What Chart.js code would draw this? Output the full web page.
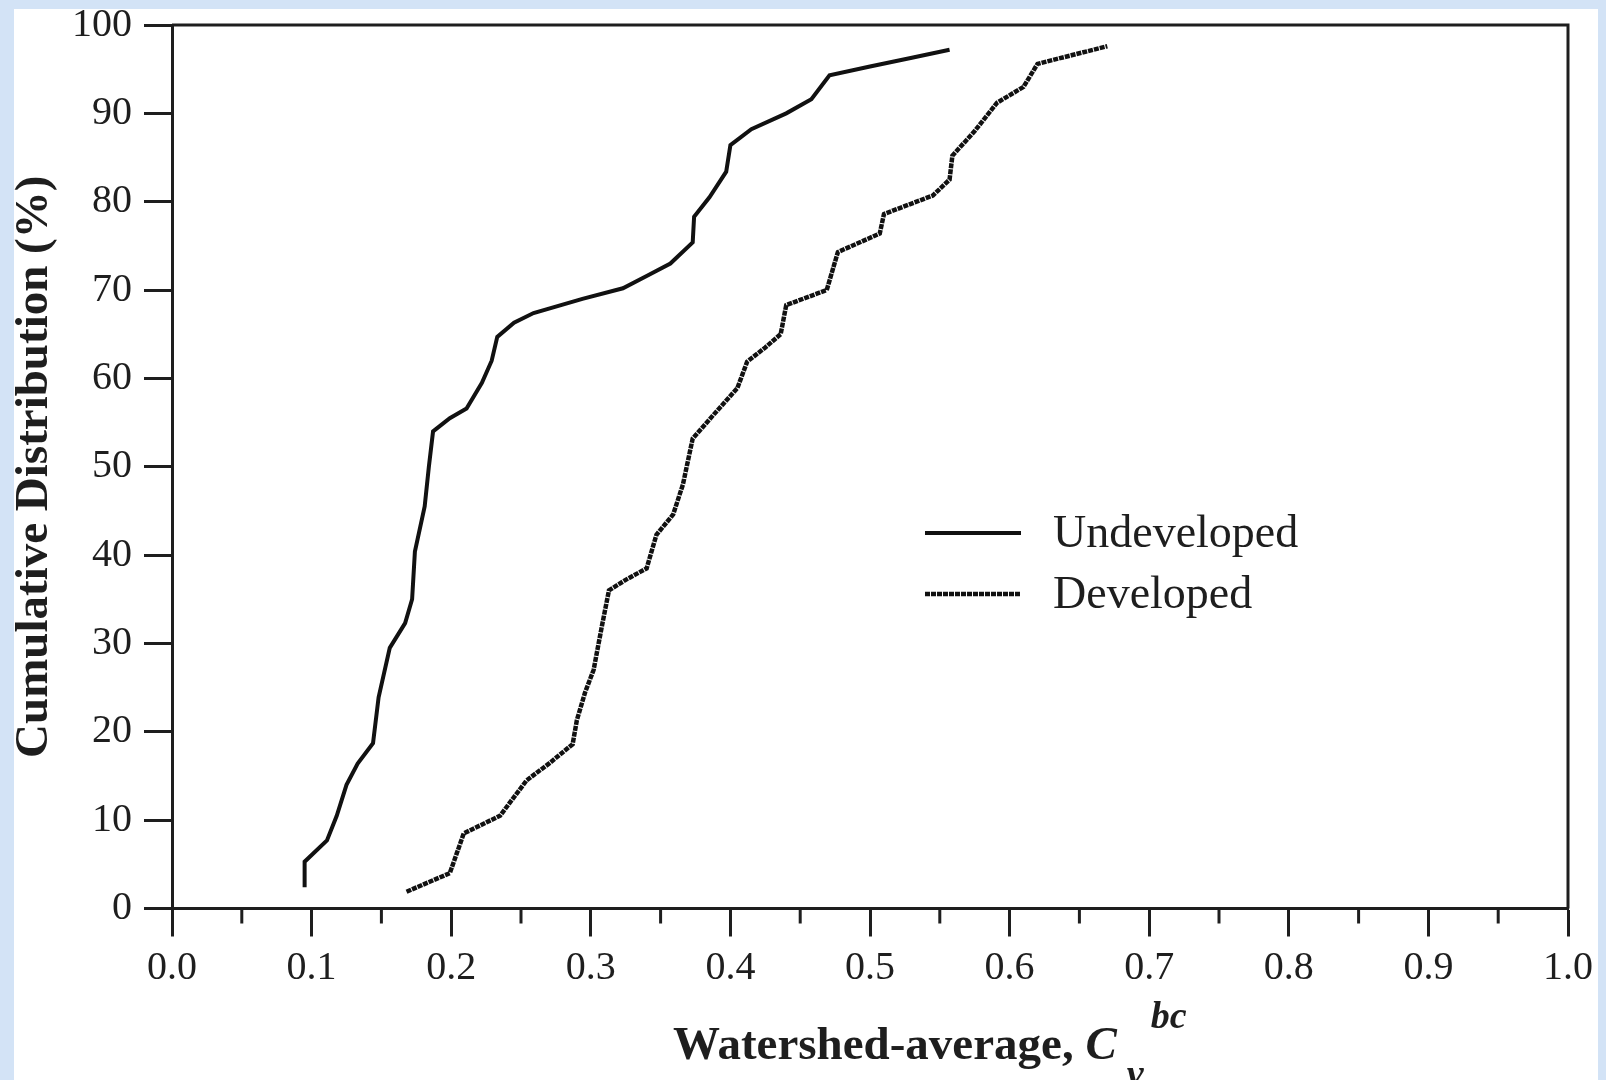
<!DOCTYPE html>
<html>
<head>
<meta charset="utf-8">
<script src="https://cdn.jsdelivr.net/npm/chart.js@4.4.1/dist/chart.umd.min.js"></script>
<style>
  html, body { margin: 0; padding: 0; }
  body { width: 1606px; height: 1080px; background: #d3e3f6; overflow: hidden; position: relative; }
  #panel { position: absolute; left: 14px; top: 9px; width: 1584px; height: 1071px; background: #fff; }
  #panel canvas { display: block; }
</style>
</head>
<body>
<div id="panel"><canvas id="cdf" width="1584" height="1071"></canvas></div>
<script>
// cumulative distribution of watershed-average Cv (bc)
const undevX = [0.095, 0.095, 0.111, 0.118, 0.125, 0.133, 0.144, 0.148, 0.156, 0.167, 0.172, 0.174, 0.181, 0.184, 0.187,
  0.199, 0.211, 0.222, 0.229, 0.233, 0.245, 0.259, 0.294, 0.323, 0.340, 0.357, 0.373, 0.374, 0.385, 0.397,
  0.400, 0.415, 0.440, 0.458, 0.471, 0.500, 0.530, 0.557];
const undevY = [2.4, 5.3, 7.7, 10.5, 14.0, 16.4, 18.7, 23.9, 29.5, 32.3, 35.0, 40.4, 45.5, 50.0, 54.0,
  55.5, 56.6, 59.5, 62.0, 64.7, 66.3, 67.4, 69.0, 70.2, 71.6, 73.0, 75.4, 78.3, 80.5, 83.4,
  86.4, 88.2, 90.0, 91.6, 94.3, 95.3, 96.3, 97.2];

const devX = [0.168, 0.199, 0.209, 0.235, 0.245, 0.254, 0.270, 0.287, 0.290, 0.296, 0.302, 0.308, 0.313, 0.325,
  0.340, 0.347, 0.359, 0.366, 0.373, 0.388, 0.405, 0.412, 0.425, 0.436, 0.440, 0.469, 0.477, 0.507, 0.510,
  0.545, 0.557, 0.559, 0.575, 0.591, 0.610, 0.620, 0.645, 0.670];
const devY = [1.9, 4.0, 8.5, 10.5, 12.6, 14.5, 16.4, 18.6, 21.3, 24.5, 27.0, 32.0, 36.0, 37.2,
  38.5, 42.3, 44.6, 48.0, 53.2, 55.9, 58.9, 61.9, 63.5, 65.0, 68.3, 70.0, 74.3, 76.4, 78.6,
  80.7, 82.5, 85.2, 88.0, 91.2, 93.0, 95.6, 96.6, 97.6];

const seriesNames = ['Undeveloped', 'Developed'];

const xTickValues = [0, 0.1, 0.2, 0.3, 0.4, 0.5, 0.6, 0.7, 0.8, 0.9, 1.0];
const xTickLabels = ['0.0', '0.1', '0.2', '0.3', '0.4', '0.5', '0.6', '0.7', '0.8', '0.9', '1.0'];
const xMinorTicks = [0.05, 0.15, 0.25, 0.35, 0.45, 0.55, 0.65, 0.75, 0.85, 0.95];
const yTickValues = [0, 10, 20, 30, 40, 50, 60, 70, 80, 90, 100];
const yTickLabels = ['0', '10', '20', '30', '40', '50', '60', '70', '80', '90', '100'];

const INK = '#1e1e1e';
const SERIF = '"Liberation Serif", "Times New Roman", serif';

function toPoints(xs, ys) {
  return xs.map((x, i) => ({ x: x, y: ys[i] }));
}

// top and right sides of the box, plus the short x ticks
const framePlugin = {
  id: 'frame',
  afterDraw(chart) {
    const { ctx, chartArea: a, scales } = chart;
    ctx.save();
    ctx.strokeStyle = INK;
    ctx.lineWidth = 3;
    ctx.beginPath();
    ctx.moveTo(a.left, a.top);
    ctx.lineTo(a.right, a.top);
    ctx.lineTo(a.right, a.bottom);
    ctx.stroke();
    xMinorTicks.forEach(v => {
      const px = scales.x.getPixelForValue(v);
      ctx.beginPath();
      ctx.moveTo(px, a.bottom);
      ctx.lineTo(px, a.bottom + 15);
      ctx.stroke();
    });
    ctx.restore();
  }
};

// legend sitting inside the plot
const innerLegend = {
  id: 'innerLegend',
  afterDraw(chart) {
    const { ctx } = chart;
    const x0 = 911, x1 = 1007, tx = 1039;
    const rows = [524, 585];
    ctx.save();
    chart.data.datasets.forEach((ds, i) => {
      ctx.strokeStyle = ds.borderColor;
      ctx.lineWidth = ds.borderWidth;
      ctx.setLineDash(ds.borderDash || []);
      ctx.beginPath();
      ctx.moveTo(x0, rows[i]);
      ctx.lineTo(x1, rows[i]);
      ctx.stroke();
      ctx.setLineDash([]);
      ctx.fillStyle = INK;
      ctx.font = '46px ' + SERIF;
      ctx.textBaseline = 'middle';
      ctx.fillText(ds.label, tx, rows[i] + 2);
    });
    ctx.restore();
  }
};

// x axis title with sub- and superscript
const xTitle = {
  id: 'xTitle',
  afterDraw(chart) {
    const { ctx } = chart;
    ctx.save();
    ctx.fillStyle = INK;
    ctx.textBaseline = 'alphabetic';
    const base = 1050;
    let x = 659;
    ctx.font = 'bold 47px ' + SERIF;
    const main = 'Watershed-average, ';
    ctx.fillText(main, x, base);
    x += ctx.measureText(main).width;
    ctx.font = 'italic bold 47px ' + SERIF;
    ctx.fillText('C', x, base);
    x += ctx.measureText('C').width;
    ctx.font = 'italic bold 38px ' + SERIF;
    ctx.fillText('v', x + 10, base + 27);
    ctx.fillText('bc', x + 34, base - 31);
    ctx.restore();
  }
};

new Chart(document.getElementById('cdf'), {
  type: 'line',
  data: {
    datasets: [{
      label: seriesNames[0],
      data: toPoints(undevX, undevY),
      borderColor: '#111',
      borderWidth: 4,
      pointRadius: 0,
      tension: 0
    }, {
      label: seriesNames[1],
      data: toPoints(devX, devY),
      borderColor: '#111',
      borderWidth: 4.5,
      borderDash: [5, 1],
      pointRadius: 0,
      tension: 0
    }]
  },
  options: {
    responsive: false,
    animation: false,
    layout: { padding: { top: 16, right: 30, left: 0, bottom: 0 } },
    plugins: {
      legend: { display: false },
      tooltip: { enabled: false }
    },
    scales: {
      x: {
        type: 'linear',
        min: 0,
        max: 1,
        afterBuildTicks: s => { s.ticks = xTickValues.map(v => ({ value: v })); },
        afterFit: s => { s.height = 171.5; s.paddingLeft = 0; s.paddingRight = 0; },
        ticks: {
          callback: (v, i) => xTickLabels[i],
          font: { family: SERIF, size: 40 },
          color: INK,
          padding: 8,
          maxRotation: 0,
          autoSkip: false
        },
        grid: { drawOnChartArea: false, tickLength: 28, tickWidth: 3, tickColor: INK },
        border: { color: INK, width: 3 }
      },
      y: {
        min: 0,
        max: 100,
        afterBuildTicks: s => { s.ticks = yTickValues.map(v => ({ value: v })); },
        afterFit: s => { s.width = 158; s.paddingTop = 0; s.paddingBottom = 0; },
        ticks: {
          callback: (v, i) => yTickLabels[i],
          font: { family: SERIF, size: 40 },
          color: INK,
          padding: 12,
          autoSkip: false
        },
        grid: { drawOnChartArea: false, tickLength: 28, tickWidth: 3, tickColor: INK },
        border: { color: INK, width: 3 },
        title: {
          display: true,
          text: 'Cumulative Distribution (%)',
          font: { family: SERIF, size: 47, weight: 'bold', lineHeight: 0.9 },
          color: INK,
          padding: 0
        }
      }
    }
  },
  plugins: [framePlugin, innerLegend, xTitle]
});
</script>
</body>
</html>
